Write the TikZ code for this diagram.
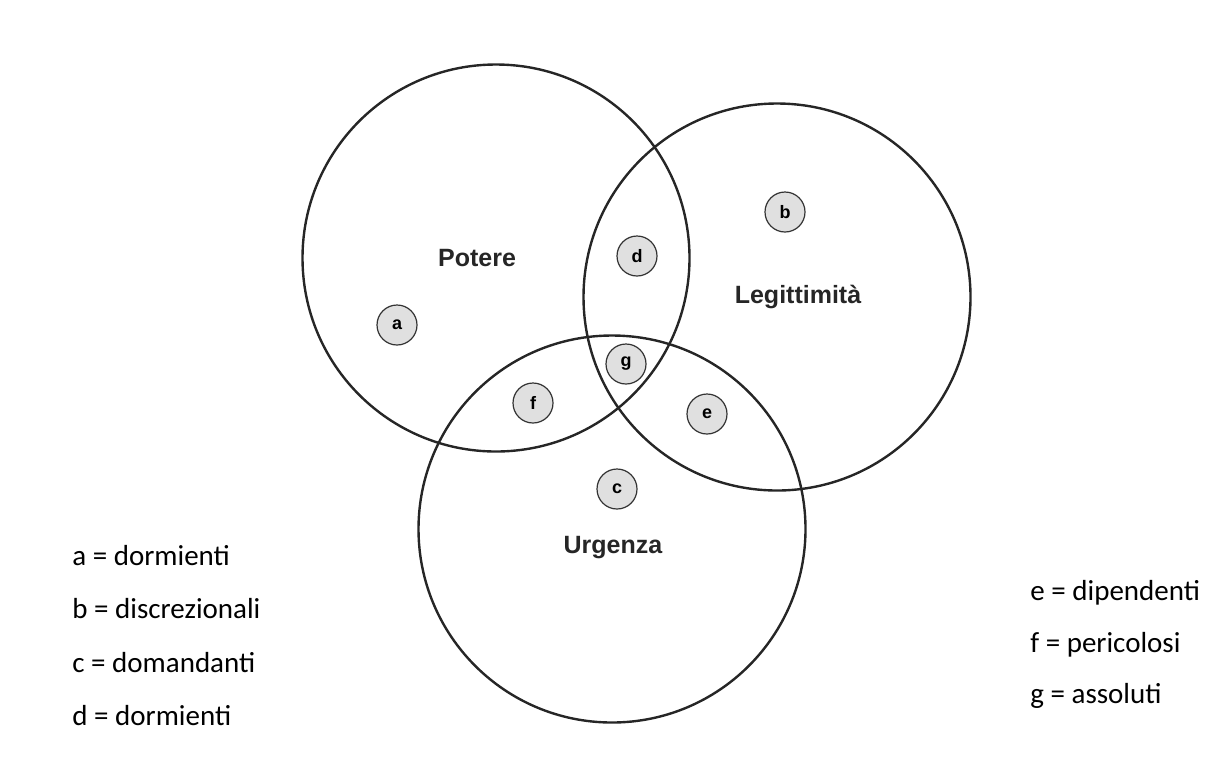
\documentclass[tikz,border=0pt]{standalone}
\usepackage{fontspec}
\setmainfont{Carlito}
\newfontfamily\vennfont{Liberation Sans}
\usetikzlibrary{positioning}

\begin{document}
\begin{tikzpicture}[x=0.5pt, y=-0.5pt,
    set/.style={line width=1.2pt, black!85},
    region/.style={circle, draw=black!80, fill=black!12, line width=0.6pt,
        minimum size=20pt, inner sep=0pt,
        font=\vennfont\bfseries\fontsize{9}{9}\selectfont},
    setlabel/.style={font=\vennfont\bfseries\fontsize{12.5}{14}\selectfont, text=black!85},
    legend/.style={anchor=base west, inner sep=0pt, font=\fontsize{14.5}{16}\selectfont}]
    \useasboundingbox (0,0) rectangle (1230,762);

    % Sets
    \coordinate (P) at (496,258);
    \coordinate (L) at (777,297);
    \coordinate (U) at (612,529);
    \foreach \c in {P, L, U}
        \draw[set] (\c) circle[radius=96.75pt];

    % Set names
    \node[setlabel] (potere) at (477,258) {Potere};
    \node[setlabel] (legittimita) at (798,297) {Legittimità};
    \node[setlabel] (urgenza) at (613,548) {Urgenza};

    % Stakeholder classes
    \foreach \n/\x/\y in {a/397/325, b/785/212, c/617/489, d/637/256, e/707/414, f/533/403, g/626/364}
        \node[region] (\n) at (\x,\y) {\n};

    % Legend
    \node[legend] (la) at (72,565) {a = dormienti};
    \node[legend] (lb) at (72,618) {b = discrezionali};
    \node[legend] (lc) at (72,672) {c = domandanti};
    \node[legend] (ld) at (72,725) {d = dormienti};
    \node[legend] (le) at (1030,600) {e = dipendenti};
    \node[legend] (lf) at (1030,652) {f = pericolosi};
    \node[legend] (lg) at (1030,703) {g = assoluti};
\end{tikzpicture}
\end{document}
